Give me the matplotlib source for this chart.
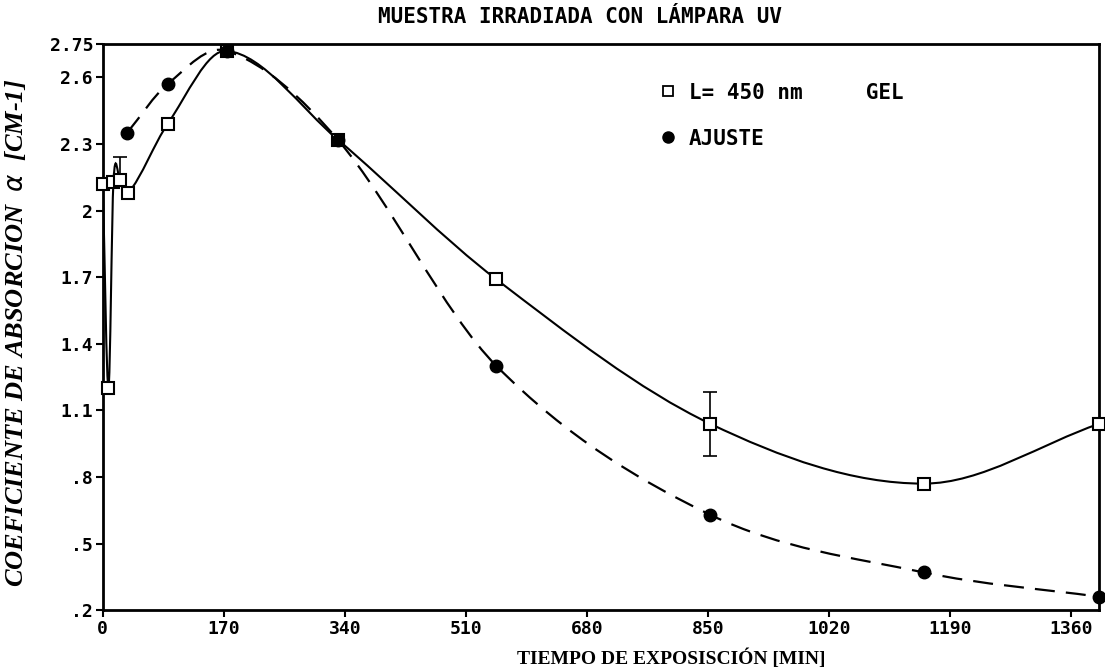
import matplotlib
matplotlib.use("Agg")
import matplotlib.pyplot as plt
from matplotlib.path import Path
from matplotlib.patches import PathPatch
from matplotlib.lines import Line2D

# measured series: L = 450 nm, GEL (open squares)
gel_t = [0, 8, 15, 24, 36, 91, 174, 330, 553, 853, 1153, 1400]
gel_a = [2.12, 1.20, 2.13, 2.14, 2.08, 2.39, 2.72, 2.32, 1.69, 1.04, 0.77, 1.04]

# fit series: AJUSTE (filled circles)
fit_t = [34, 91, 174, 330, 553, 853, 1153, 1400]
fit_a = [2.35, 2.57, 2.72, 2.32, 1.30, 0.63, 0.37, 0.26]

# error bars on the measured series
err_t = [24, 853]
err_a = [2.14, 1.04]
err_lo = [0.0, 0.145]
err_hi = [0.10, 0.145]

x_ticks = [0, 170, 340, 510, 680, 850, 1020, 1190, 1360]
y_ticks = [0.2, 0.5, 0.8, 1.1, 1.4, 1.7, 2.0, 2.3, 2.6, 2.75]
y_labels = [".2", ".5", ".8", "1.1", "1.4", "1.7", "2", "2.3", "2.6", "2.75"]

PIX = "DejaVu Sans Mono"
SERIF = "Liberation Serif"


def smooth_path(xs, ys):
    """Cubic Hermite curve through the points, built as bezier segments."""
    n = len(xs)
    slopes = []
    for i in range(n):
        a = max(i - 1, 0)
        b = min(i + 1, n - 1)
        slopes.append((ys[b] - ys[a]) / (xs[b] - xs[a]))
    verts = [(xs[0], ys[0])]
    codes = [Path.MOVETO]
    for i in range(n - 1):
        dx = (xs[i + 1] - xs[i]) / 3.0
        verts += [(xs[i] + dx, ys[i] + slopes[i] * dx),
                  (xs[i + 1] - dx, ys[i + 1] - slopes[i + 1] * dx),
                  (xs[i + 1], ys[i + 1])]
        codes += [Path.CURVE4] * 3
    return Path(verts, codes)


fig, ax = plt.subplots(figsize=(11.05, 6.69), dpi=100)
fig.subplots_adjust(left=0.093, right=0.995, bottom=0.088, top=0.934)

ax.add_patch(PathPatch(smooth_path(gel_t, gel_a), fill=False, lw=1.5,
                       edgecolor="black"))
ax.add_patch(PathPatch(smooth_path(fit_t, fit_a), fill=False, lw=1.6,
                       edgecolor="black", linestyle=(0, (9, 5))))

ax.errorbar(err_t, err_a, yerr=[err_lo, err_hi], fmt="none", ecolor="black",
            elinewidth=1.2, capsize=5, capthick=1.2)
ax.plot(gel_t, gel_a, ls="none", marker="s", ms=8, mfc="white",
        mec="black", mew=1.5, clip_on=False, zorder=5)
ax.plot(fit_t, fit_a, ls="none", marker="o", ms=9, mfc="black",
        mec="black", clip_on=False, zorder=5)

ax.set_xlim(0, 1400)
ax.set_ylim(0.2, 2.75)
ax.set_xticks(x_ticks)
ax.set_xticklabels([str(t) for t in x_ticks], fontfamily=PIX,
                   fontweight="bold", fontsize=13)
ax.set_yticks(y_ticks)
ax.set_yticklabels(y_labels, fontfamily=PIX, fontweight="bold", fontsize=13)
ax.tick_params(direction="out", length=5, width=1.5, pad=2)
for s in ax.spines.values():
    s.set_linewidth(2)

ax.set_xlabel("TIEMPO DE EXPOSISCIÓN [MIN]", fontfamily=SERIF,
              fontweight="bold", fontsize=14)
ax.xaxis.set_label_coords(0.57, -0.068)
ax.set_ylabel(r"COEFICIENTE DE ABSORCION  $\alpha$  [CM-1]", fontfamily=SERIF,
              fontweight="bold", fontstyle="italic", fontsize=19)
ax.yaxis.set_label_coords(-0.075, 0.49)

fig.text(0.525, 0.975, "MUESTRA IRRADIADA CON LÁMPARA UV", ha="center",
         va="center", fontfamily=PIX, fontweight="bold", fontsize=15)

handles = [
    Line2D([], [], ls="none", marker="s", ms=7, mfc="white", mec="black", mew=1.3),
    Line2D([], [], ls="none", marker="o", ms=8, mfc="black", mec="black"),
]
ax.legend(handles, ["L= 450 nm     GEL", "AJUSTE"], loc="upper left",
          bbox_to_anchor=(0.54, 0.965), frameon=False, handlelength=0.8,
          handletextpad=0.6, labelspacing=1.25,
          prop={"family": PIX, "weight": "bold", "size": 15})

fig.savefig("out.png", dpi=100)
